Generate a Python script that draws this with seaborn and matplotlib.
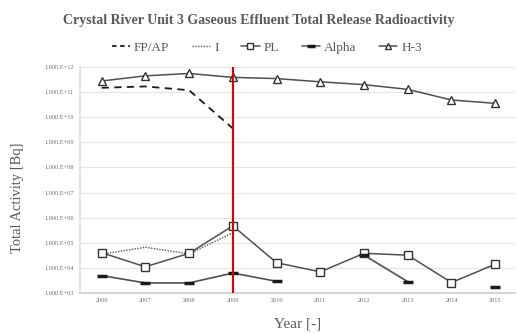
import numpy as np
import pandas as pd
import matplotlib
matplotlib.use("Agg")
import matplotlib.pyplot as plt
from matplotlib.lines import Line2D
from matplotlib.ticker import FixedLocator, FixedFormatter
import seaborn as sns

years = [2006, 2007, 2008, 2009, 2010, 2011, 2012, 2013, 2014, 2015]
fp_ap = [1.5e11, 1.7e11, 1.2e11, 3.6e9, np.nan, np.nan, np.nan, np.nan, np.nan, np.nan]
iodine = [3.5e4, 6.6e4, 3.6e4, 2.5e5, np.nan, np.nan, np.nan, np.nan, np.nan, np.nan]
pl = [4.0e4, 1.1e4, 3.8e4, 4.7e5, 1.6e4, 6.9e3, 3.8e4, 3.2e4, 2.6e3, 1.4e4]
alpha = [4.9e3, 2.5e3, 2.5e3, 6.2e3, 2.9e3, np.nan, 3.2e4, 2.8e3, np.nan, 1.7e3]
h3 = [2.8e11, 4.5e11, 5.6e11, 3.9e11, 3.5e11, 2.6e11, 2.0e11, 1.3e11, 4.9e10, 3.6e10]
ytick_vals = [1e3, 1e4, 1e5, 1e6, 1e7, 1e8, 1e9, 1e10, 1e11, 1e12]
ytick_labels = ["1.000.E+03", "1.000.E+04", "1.000.E+05", "1.000.E+06", "1.000.E+07",
                "1.000.E+08", "1.000.E+09", "1.000.E+10", "1.000.E+11", "1.000.E+12"]
event_year = 2009

sns.set_theme(style="white")
plt.rcParams['font.family'] = ['Liberation Serif', 'DejaVu Serif']

fig = plt.figure(figsize=(5.18, 3.34), dpi=100)
ax = fig.add_axes([0.154, 0.123, 0.84, 0.676])


def seg_df(vals):
    v = np.array(vals, dtype=float)
    seg = np.cumsum(np.isnan(v))
    df = pd.DataFrame({"year": years, "val": v, "seg": seg})
    return df.dropna()


lc = "#505050"
sns.lineplot(data=seg_df(fp_ap), x="year", y="val", units="seg", estimator=None,
             ax=ax, color="#1a1a1a", linestyle=(0, (4, 3)), linewidth=1.3)
sns.lineplot(data=seg_df(iodine), x="year", y="val", units="seg", estimator=None,
             ax=ax, color="#555555", linestyle=(0, (1, 1)), linewidth=1.0)
sns.lineplot(data=seg_df(pl), x="year", y="val", units="seg", estimator=None,
             ax=ax, color=lc, linewidth=1.1, marker="s", markersize=5.5,
             markerfacecolor="white", markeredgecolor="#333333", markeredgewidth=1.0)
sns.lineplot(data=seg_df(alpha), x="year", y="val", units="seg", estimator=None,
             ax=ax, color=lc, linewidth=1.2, marker="_", markersize=7,
             markeredgecolor="#1a1a1a", markeredgewidth=2.5)
sns.lineplot(data=seg_df(h3), x="year", y="val", units="seg", estimator=None,
             ax=ax, color=lc, linewidth=1.1, marker="^", markersize=6,
             markerfacecolor="white", markeredgecolor="#333333", markeredgewidth=1.0)

ax.axvline(event_year, color="#e00000", linewidth=1.5, zorder=5)

ax.set_yscale("log")
ax.set_ylim(1e3, 1e12)
ax.set_xlim(2005.5, 2015.45)
ax.yaxis.set_major_locator(FixedLocator(ytick_vals))
ax.yaxis.set_major_formatter(FixedFormatter(ytick_labels))
ax.yaxis.set_minor_locator(FixedLocator([]))
ax.set_xticks(years)
ax.set_xticklabels([str(y) for y in years])
ax.tick_params(axis="both", labelsize=4.5, colors="#707070", length=0, pad=4)
ax.grid(axis="y", color="#e4e4e4", linewidth=0.8)
ax.grid(axis="x", visible=False)
for s in ["top", "right"]:
    ax.spines[s].set_visible(False)
ax.spines["left"].set_color("#e0e0e0")
ax.spines["bottom"].set_color("#d0d0d0")
ax.set_xlabel("Year [-]", fontsize=11, color="#595959", labelpad=10)
ax.set_ylabel("Total Activity [Bq]", fontsize=10.5, color="#595959")
ax.yaxis.set_label_coords(-0.128, 0.42)

fig.text(0.5, 0.94, "Crystal River Unit 3 Gaseous Effluent Total Release Radioactivity",
         ha="center", va="center", fontsize=10, fontweight="bold", color="#595959")

handles = [
    Line2D([], [], color="#1a1a1a", linestyle=(0, (2.5, 2)), linewidth=1.3),
    Line2D([], [], color="#555555", linestyle=(0, (1, 1)), linewidth=1.0),
    Line2D([], [], color=lc, linewidth=1.1, marker="s", markersize=4.5,
           markerfacecolor="white", markeredgecolor="#333333"),
    Line2D([], [], color=lc, linewidth=1.1, marker="_", markersize=6,
           markeredgecolor="#1a1a1a", markeredgewidth=2.5),
    Line2D([], [], color=lc, linewidth=1.1, marker="^", markersize=5,
           markerfacecolor="white", markeredgecolor="#333333"),
]
labels = ["FP/AP", "I", "PL", "Alpha", "H-3"]
leg = fig.legend(handles, labels, loc="center", bbox_to_anchor=(0.515, 0.857), ncol=5,
                 frameon=False, fontsize=9.5, handlelength=1.4, handletextpad=0.3,
                 columnspacing=1.7)
for t in leg.get_texts():
    t.set_color("#595959")

fig.savefig("out.png", dpi=100)
